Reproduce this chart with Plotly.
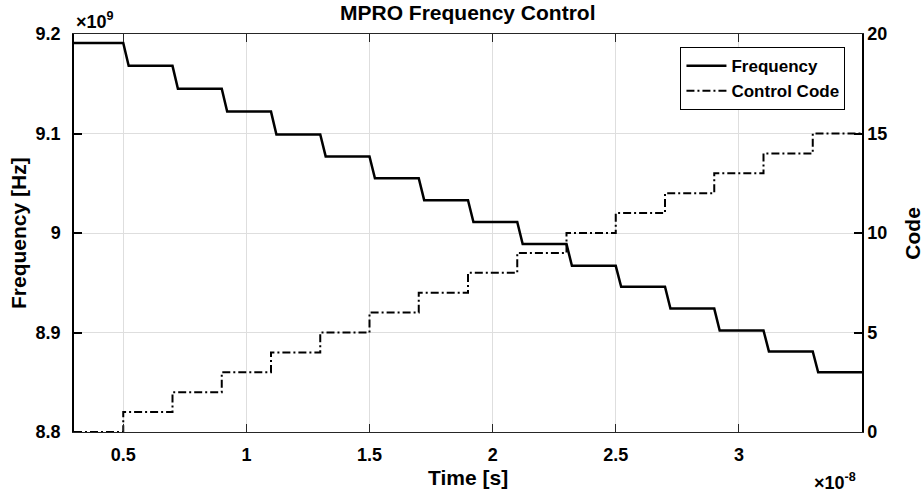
import plotly.graph_objects as go

# ---- data (time in units of 1e-8 s, frequency in units of 1e9 Hz) ----
t_start = 0.3
t_end = 3.5
step_times = [0.5, 0.7, 0.9, 1.1, 1.3, 1.5, 1.7, 1.9, 2.1, 2.3, 2.5, 2.7, 2.9, 3.1, 3.3]
freq_levels = [9.191, 9.168, 9.145, 9.122, 9.099, 9.077, 9.055, 9.033, 9.011,
               8.989, 8.967, 8.946, 8.924, 8.902, 8.881, 8.860]
code_levels = [0, 1, 2, 3, 4, 5, 6, 7, 8, 9, 10, 11, 12, 13, 14, 15]

x_ticks = [0.5, 1, 1.5, 2, 2.5, 3]
x_ticktext = ["0.5", "1", "1.5", "2", "2.5", "3"]
y_ticks = [8.8, 8.9, 9.0, 9.1, 9.2]
y_ticktext = ["8.8", "8.9", "9", "9.1", "9.2"]
y2_ticks = [0, 5, 10, 15, 20]
y2_ticktext = ["0", "5", "10", "15", "20"]

# settling time of each frequency step (style)
settle = 0.022

# frequency trace: plateaus joined by short settling transitions
fx, fy = [t_start], [freq_levels[0]]
for i, ts in enumerate(step_times):
    fx += [ts, ts + settle]
    fy += [freq_levels[i], freq_levels[i + 1]]
fx.append(t_end)
fy.append(freq_levels[-1])

# control code trace: ideal steps
cx = [t_start] + step_times + [t_end]
cy = code_levels + [code_levels[-1]]

FONT = "Liberation Sans, Arial, Helvetica, sans-serif"
GRID = "#dedede"

fig = go.Figure()
fig.add_trace(go.Scatter(x=fx, y=fy, mode="lines", name="Frequency",
                         line=dict(color="black", width=2.5), yaxis="y"))
fig.add_trace(go.Scatter(x=cx, y=cy, mode="lines", name="Control Code",
                         line=dict(color="black", width=2, shape="hv",
                                   dash="8px,3px,2px,3px"), yaxis="y2"))

tickfont = dict(family=FONT, size=18, color="black", weight="bold")
TITLE_SIZE = 21

fig.update_layout(
    width=923, height=494,
    margin=dict(l=74, r=61, t=34, b=62),
    paper_bgcolor="white", plot_bgcolor="white",
    font=dict(family=FONT, color="black"),
    showlegend=True,
    legend=dict(x=0.979, xanchor="right", y=0.967, yanchor="top",
                bgcolor="white", bordercolor="black", borderwidth=1,
                font=dict(family=FONT, size=17, color="black", weight="bold"),
                tracegroupgap=0, itemwidth=40),
    xaxis=dict(range=[t_start, t_end], tickvals=x_ticks, ticktext=x_ticktext,
               ticks="inside", ticklen=8, tickcolor="#262626", tickwidth=1,
               showline=True, linecolor="#262626", linewidth=1, mirror="ticks",
               showgrid=True, gridcolor=GRID, gridwidth=1, zeroline=False,
               tickfont=tickfont, ticklabelstandoff=6),
    yaxis=dict(range=[8.8, 9.2], tickvals=y_ticks, ticktext=y_ticktext,
               ticks="inside", ticklen=8, tickcolor="black", tickwidth=1.5,
               showline=True, linecolor="black", linewidth=1.5,
               showgrid=True, gridcolor=GRID, gridwidth=1, zeroline=False,
               tickfont=tickfont, ticklabelstandoff=8),
    yaxis2=dict(range=[0, 20], tickvals=y2_ticks, ticktext=y2_ticktext,
                overlaying="y", side="right",
                ticks="inside", ticklen=8, tickcolor="black", tickwidth=1.5,
                showline=True, linecolor="black", linewidth=1.5,
                showgrid=False, zeroline=False, tickfont=tickfont),
    annotations=[
        dict(text="<b>MPRO Frequency Control</b>", x=0.5, xref="paper", y=1.0, yref="paper",
             yanchor="bottom", yshift=8, showarrow=False,
             font=dict(size=TITLE_SIZE, family=FONT, color="black")),
        dict(text="<b>Time [s]</b>", x=0.5, xref="paper", y=-0.115, yref="paper",
             yanchor="middle", showarrow=False,
             font=dict(size=TITLE_SIZE, family=FONT, color="black")),
        dict(text="<b>Frequency [Hz]</b>", x=-0.071, xref="paper", y=0.5, yref="paper",
             xanchor="center", textangle=-90, showarrow=False,
             font=dict(size=TITLE_SIZE, family=FONT, color="black")),
        dict(text="<b>Code</b>", x=1.063, xref="paper", y=0.5, yref="paper",
             xanchor="center", textangle=-90, showarrow=False,
             font=dict(size=TITLE_SIZE, family=FONT, color="black")),
        dict(text="<b>×10<sup>9</sup></b>", x=0.0, xref="paper", y=1.0, yref="paper",
             xanchor="left", yanchor="bottom", yshift=0, showarrow=False,
             font=dict(size=18, family=FONT, color="black")),
        dict(text="<b>×10<sup>-8</sup></b>", x=0.995, xref="paper", y=-0.09, yref="paper",
             xanchor="right", yanchor="top", showarrow=False,
             font=dict(size=18, family=FONT, color="black")),
    ],
)

fig.write_html("out.html", config={"displayModeBar": False},
               post_script="document.body.style.margin='0';document.body.style.padding='0';")
